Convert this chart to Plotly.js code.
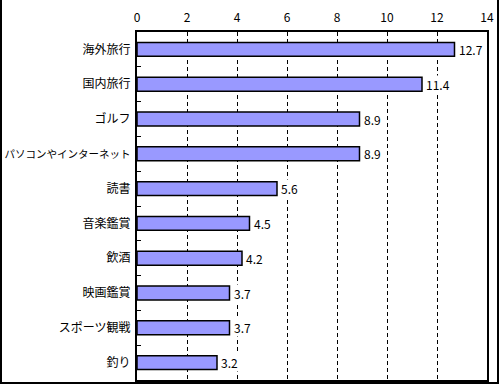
<!DOCTYPE html>
<html>
<head>
<meta charset="utf-8">
<script src="https://cdn.plot.ly/plotly-3.0.1.min.js"></script>
<style>
html,body{margin:0;padding:0;background:#fff;}
#wrap{position:relative;width:500px;height:385px;}
#chart{width:500px;height:385px;}
#frame{position:absolute;left:0;top:0;width:499px;height:384px;box-sizing:border-box;border-left:2px solid #000;border-right:2px solid #000;border-bottom:2px solid #000;pointer-events:none;}
</style>
</head>
<body>
<div id="wrap"><div id="chart"></div><div id="frame"></div></div>
<script>
const categories = ["海外旅行","国内旅行","ゴルフ","パソコンやインターネット","読書","音楽鑑賞","飲酒","映画鑑賞","スポーツ観戦","釣り"];
const values = [12.7, 11.4, 8.9, 8.9, 5.6, 4.5, 4.2, 3.7, 3.7, 3.2];
const xTicks = [0, 2, 4, 6, 8, 10, 12, 14];

const font = {family: "'Noto Sans CJK JP', 'Noto Sans', sans-serif", size: 12, color: "#000"};

// long labels are drawn a bit smaller so they fit in the left margin
const catLabels = categories.map(c => c.length > 8 ? '<span style="font-size:10.5px">' + c + '</span>' : c);

const trace = {
  type: "bar",
  orientation: "h",
  y: categories,
  x: values,
  width: 0.4,
  marker: {color: "#9999FF", line: {color: "#000", width: 1.5}},
  hoverinfo: "none"
};

const labels = values.map((v, i) => ({
  x: v, y: categories[i], xref: "x", yref: "y",
  text: v.toFixed(1), showarrow: false,
  xanchor: "left", yanchor: "middle", xshift: 3,
  bgcolor: "#fff", borderpad: 0, font: font
}));

const layout = {
  width: 500, height: 385,
  margin: {l: 137, r: 13, t: 32, b: 5},
  paper_bgcolor: "#fff", plot_bgcolor: "#fff",
  font: font,
  showlegend: false,
  annotations: labels,
  xaxis: {
    side: "top", range: [0, 14], tickvals: xTicks, ticktext: xTicks.map(String),
    showgrid: true, gridcolor: "#000", gridwidth: 1, griddash: "4px,3px",
    zeroline: false, showline: true, linecolor: "#000", linewidth: 2, mirror: true,
    ticks: "", tickfont: font, ticklabelstandoff: 3, fixedrange: true
  },
  yaxis: {
    type: "category", autorange: "reversed",
    tickmode: "array", tickvals: categories, ticktext: catLabels,
    showline: true, linecolor: "#000", linewidth: 2, mirror: true,
    ticks: "inside", tickson: "boundaries", ticklen: 4, tickcolor: "#000", tickwidth: 1,
    showgrid: false, tickfont: font, ticklabelstandoff: 2, fixedrange: true
  }
};

Plotly.newPlot("chart", [trace], layout, {displayModeBar: false, staticPlot: true});
</script>
</body>
</html>
